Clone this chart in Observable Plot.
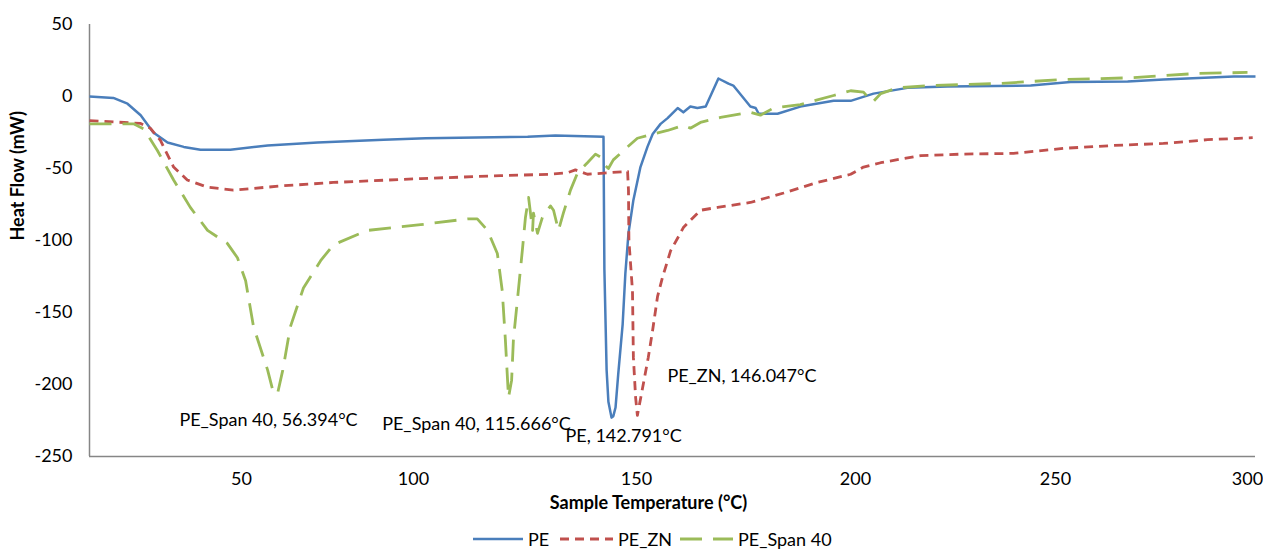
<!DOCTYPE html>
<html>
<head>
<meta charset="utf-8">
<script src="https://cdn.jsdelivr.net/npm/d3@7"></script>
<script src="https://cdn.jsdelivr.net/npm/@observablehq/plot@0.6"></script>
<style>
  html, body { margin: 0; padding: 0; background: #fff; overflow: hidden; }
  #chart svg { display: block; }
  #legend { position: relative; width: 1263px; height: 27px; font-family: Lato, sans-serif; font-size: 18px; line-height: 20px; color: #000; }
  #legend .item { position: absolute; top: 7px; height: 20px; display: flex; align-items: center; }
  #legend svg { display: block; margin-right: 5px; }
</style>
</head>
<body>
<div id="chart"></div>
<div id="legend"></div>
<script>
// ---- data (temperature °C, heat flow mW) ----
const seriesNames = ["PE", "PE_ZN", "PE_Span 40"];
const seriesColors = ["#4A7EBB", "#C0504D", "#9BBB59"];
const seriesDash = [null, "9,6", "22,11"];

const xTicks = [50, 100, 150, 200, 250, 300];
const yTicks = [50, 0, -50, -100, -150, -200, -250];

const peTemp = [20.0, 24.7, 27.5, 30.1, 32.6, 35.4, 38.6, 41.9, 47.8, 57.6, 72.1, 91.3, 102.7, 125.6, 131.8, 142.6, 142.8, 143.3, 143.7, 144.4, 144.8, 145.3, 145.9, 146.9, 147.5, 148.2, 149.3, 150.9, 152.5, 153.7, 155.5, 157.1, 159.4, 160.7, 162.3, 163.9, 165.8, 168.7, 171.0, 172.1, 176.0, 177.2, 177.9, 182.2, 187.4, 195.0, 198.9, 204.5, 213.0, 223.0, 243.8, 253.9, 268.8, 278.1, 296.4, 302.0];
const peFlow = [0, -1, -5, -13, -25, -32, -35, -37, -37, -34, -32, -30, -29, -28, -27, -28, -120, -190, -212, -223, -222, -216, -193, -158, -123, -95, -72, -49, -35, -26, -19, -15, -8, -11, -7, -8, -7, 12.5, 9, 7.6, -7, -8, -12, -12, -7, -3, -3, 2, 6, 7, 7.6, 10, 10.4, 11.8, 13.9, 13.9];

const znTemp = [20.0, 30.1, 32.0, 34.0, 36.6, 39.3, 43.3, 48.4, 62.2, 76.7, 101.6, 119.5, 130.7, 134.5, 136.3, 139.0, 148.0, 148.2, 148.3, 149.1, 149.3, 149.8, 150.2, 151.6, 152.7, 153.7, 154.8, 155.9, 157.8, 160.0, 160.7, 164.6, 168.5, 176.0, 183.6, 191.3, 198.9, 202.0, 206.3, 216.3, 227.0, 239.5, 252.1, 265.1, 278.1, 289.6, 301.3];
const znFlow = [-16.7, -18.7, -22, -30.5, -49, -58, -63, -65, -62, -59.7, -57, -55, -54, -53, -51, -54, -52, -65, -100, -135, -181, -209, -221.5, -199, -181, -162, -139, -126, -107, -95, -91, -79, -77, -73.6, -67, -59.7, -54, -49, -46, -41, -40, -39.5, -36, -34, -32.6, -30, -28.6];

const spanTemp = [20.0, 28.7, 30.7, 33.4, 36.6, 39.9, 43.3, 47.2, 49.2, 51.2, 53.5, 57.6, 59.3, 60.5, 62.0, 64.2, 68.0, 73.0, 76.7, 86.6, 101.6, 112.1, 114.3, 116.6, 118.8, 119.9, 120.6, 121.3, 122.0, 122.4, 123.5, 124.4, 125.1, 125.8, 126.7, 126.9, 127.8, 128.9, 130.7, 131.4, 132.5, 133.6, 135.2, 136.8, 139.0, 140.8, 141.9, 143.0, 143.7, 144.8, 148.0, 150.2, 153.9, 157.1, 160.7, 162.3, 164.6, 169.2, 176.0, 178.3, 181.3, 187.4, 195.0, 198.9, 202.0, 204.3, 206.3, 210.5, 218.8, 235.5, 252.1, 269.5, 286.9, 300.0];
const spanFlow = [-19, -19, -22.5, -37.5, -58, -77, -93, -102, -112, -128, -160, -190, -206, -206, -190, -160, -133, -114, -103, -93, -89, -85, -85, -93, -109, -135, -169, -209, -197, -169, -135, -107, -84, -70, -93, -81, -95, -84, -76, -79, -93, -81, -65, -53, -46, -40, -42, -48, -50, -44, -35, -29, -26, -23.6, -20, -22, -18, -14.5, -11, -13, -8, -5.6, 0.7, 4, 3, -4, 2, 6, 7.6, 9, 11.8, 13, 16, 16.7];

// peak annotations: series, stated peak temperature, label
const peakSeries = ["PE_Span 40", "PE_Span 40", "PE", "PE_ZN"];
const peakTemps = [56.394, 115.666, 142.791, 146.047];
const peakLabels = ["PE_Span 40, 56.394°C", "PE_Span 40, 115.666°C", "PE, 142.791°C", "PE_ZN, 146.047°C"];

// ---- build tables ----
const temps = [peTemp, znTemp, spanTemp];
const flows = [peFlow, znFlow, spanFlow];
const rows = seriesNames.map((name, s) => temps[s].map((t, i) => ({series: name, temp: t, flow: flows[s][i]})));

const peaks = peakSeries.map((name, k) => {
  const s = seriesNames.indexOf(name);
  const cand = rows[s].filter(d => Math.abs(d.temp - peakTemps[k]) <= 8);
  const p = d3.least(cand, d => d.flow);
  return {...p, label: peakLabels[k]};
});

const font = "Lato, sans-serif";
const labelStyle = {fontSize: 18, fontFamily: font, fill: "#000"};
const plainNum = d => String(d);

const marks = [
  Plot.ruleX([20], {stroke: "#868686", strokeWidth: 1.5}),
  Plot.ruleY([-250], {stroke: "#868686", strokeWidth: 1.5}),
  Plot.axisY({ticks: yTicks, tickSize: 0, tickPadding: 17, label: null, fontSize: 18, tickFormat: plainNum}),
  Plot.axisX({ticks: xTicks, tickSize: 0, tickPadding: 16, label: null, fontSize: 18, tickFormat: plainNum}),
  ...rows.map((data, s) => Plot.line(data, {
    x: "temp", y: "flow",
    stroke: seriesColors[s], strokeWidth: s === 0 ? 2.5 : 2.8,
    strokeDasharray: seriesDash[s] || undefined,
    strokeLinejoin: "round", strokeLinecap: "butt"
  })),
  Plot.text([peaks[0]], {x: "temp", y: "flow", text: "label", dx: -5, dy: 27, textAnchor: "middle", ...labelStyle}),
  Plot.text([peaks[1]], {x: "temp", y: "flow", text: "label", dx: -32, dy: 27, textAnchor: "middle", ...labelStyle}),
  Plot.text([peaks[2]], {x: "temp", y: "flow", text: "label", dx: -46, dy: 19, textAnchor: "start", ...labelStyle}),
  Plot.text([peaks[3]], {x: "temp", y: "flow", text: "label", dx: 30, dy: -39, textAnchor: "start", ...labelStyle}),
  Plot.text(["Sample Temperature (°C)"], {frameAnchor: "bottom", dx: -24, dy: 52, fontWeight: "bold", ...labelStyle}),
  Plot.text(["Heat Flow (mW)"], {frameAnchor: "left", rotate: -90, dx: -71, fontWeight: "bold", ...labelStyle})
];

const chart = Plot.plot({
  width: 1263,
  height: 522,
  marginLeft: 89,
  marginRight: 8,
  marginTop: 24,
  marginBottom: 66,
  style: {fontFamily: font, fontSize: "18px", color: "#000", background: "#fff"},
  x: {type: "linear", domain: [20, 50, 100, 150, 200, 250, 300, 302], range: [89, 241, 413, 636, 855, 1055, 1247, 1255]},
  y: {type: "linear", domain: [-250, 50]},
  marks
});
document.getElementById("chart").appendChild(chart);

// ---- legend ----
const legendLeft = [473, 560, 680];
const swatchW = [50, 53, 53];
const legend = d3.select("#legend");
seriesNames.forEach((name, s) => {
  const item = legend.append("div").attr("class", "item").style("left", legendLeft[s] + "px");
  const sv = item.append("svg").attr("width", swatchW[s]).attr("height", 10);
  sv.append("line").attr("x1", 0).attr("x2", swatchW[s]).attr("y1", 5).attr("y2", 5)
    .attr("stroke", seriesColors[s]).attr("stroke-width", s === 0 ? 2.5 : 2.8)
    .attr("stroke-dasharray", seriesDash[s] || null);
  item.append("span").text(name);
});
</script>
</body>
</html>
